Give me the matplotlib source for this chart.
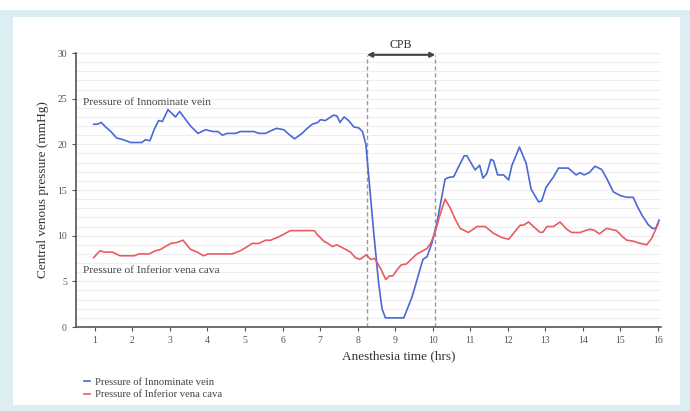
#!/usr/bin/env python3
# coding=utf-8

import matplotlib
matplotlib.use('Agg')
from matplotlib import pyplot as plt
from matplotlib.patches import Rectangle

plt.rcParams['font.family'] = ['Liberation Serif', 'DejaVu Serif']

# innominate vein pressure (hrs, mmHg)
inno_t = [0.97, 1.07, 1.17, 1.29, 1.43, 1.58, 1.72, 1.96, 2.25, 2.35, 2.47, 2.58,
          2.70, 2.80, 2.95, 3.15, 3.26, 3.55, 3.75, 3.95, 4.15, 4.28, 4.40, 4.53,
          4.75, 4.88, 5.24, 5.37, 5.55, 5.70, 5.84, 6.03, 6.17, 6.32, 6.52, 6.66,
          6.79, 6.94, 7.01, 7.14, 7.23, 7.36, 7.45, 7.53, 7.64, 7.76, 7.90, 8.03,
          8.13, 8.22, 8.43, 8.56, 8.65, 8.74, 9.23, 9.45, 9.74, 9.85, 9.98, 10.11,
          10.33, 10.45, 10.56, 10.69, 10.84, 10.91, 11.00, 11.13, 11.25, 11.34, 11.44, 11.55,
          11.62, 11.73, 11.89, 12.02, 12.11, 12.31, 12.49, 12.62, 12.82, 12.90, 13.02, 13.22,
          13.35, 13.61, 13.82, 13.93, 14.03, 14.17, 14.32, 14.50, 14.63, 14.81, 14.99, 15.17,
          15.34, 15.45, 15.58, 15.74, 15.85, 15.94, 16.03]
inno_p = [22.2, 22.2, 22.4, 21.9, 21.4, 20.7, 20.55, 20.2, 20.2, 20.5, 20.4, 21.6,
          22.6, 22.5, 23.8, 23.0, 23.6, 22.0, 21.2, 21.6, 21.4, 21.4, 21.0, 21.2,
          21.2, 21.4, 21.4, 21.2, 21.2, 21.5, 21.75, 21.6, 21.1, 20.6, 21.2, 21.75,
          22.2, 22.4, 22.7, 22.6, 22.85, 23.2, 23.1, 22.4, 23.0, 22.6, 21.9, 21.8,
          21.4, 20.0, 10.3, 4.8, 2.0, 1.0, 1.0, 3.3, 7.4, 7.7, 9.2, 11.35,
          16.2, 16.4, 16.45, 17.55, 18.75, 18.75, 18.1, 17.2, 17.7, 16.3, 16.8, 18.35,
          18.2, 16.65, 16.65, 16.1, 17.7, 19.7, 17.9, 15.1, 13.7, 13.8, 15.3, 16.45,
          17.4, 17.4, 16.65, 16.9, 16.65, 16.9, 17.6, 17.25, 16.3, 14.8, 14.4, 14.2,
          14.2, 13.2, 12.2, 11.2, 10.8, 10.8, 11.7]

# inferior vena cava pressure (hrs, mmHg)
ivc_t = [0.97, 1.14, 1.25, 1.47, 1.67, 2.05, 2.18, 2.44, 2.62, 2.76, 2.89, 3.03,
         3.18, 3.35, 3.55, 3.73, 3.89, 4.02, 4.66, 4.88, 5.06, 5.19, 5.37, 5.55,
         5.68, 5.86, 6.03, 6.21, 6.85, 6.93, 7.10, 7.23, 7.33, 7.44, 7.59, 7.81,
         7.94, 8.06, 8.23, 8.35, 8.45, 8.53, 8.63, 8.75, 8.85, 8.94, 9.05, 9.16,
         9.30, 9.45, 9.58, 9.74, 9.85, 9.95, 10.07, 10.18, 10.33, 10.47, 10.60, 10.73,
         10.95, 11.18, 11.40, 11.62, 11.84, 12.02, 12.15, 12.33, 12.42, 12.55, 12.86, 12.94,
         13.04, 13.22, 13.39, 13.57, 13.70, 13.93, 14.06, 14.19, 14.30, 14.44, 14.63, 14.90,
         15.05, 15.17, 15.34, 15.48, 15.70, 15.83, 16.01]
ivc_p = [7.6, 8.35, 8.2, 8.2, 7.8, 7.8, 8.0, 8.0, 8.35, 8.5, 8.85, 9.15,
         9.25, 9.5, 8.5, 8.2, 7.8, 8.0, 8.0, 8.35, 8.8, 9.15, 9.15, 9.5,
         9.5, 9.8, 10.15, 10.55, 10.55, 10.1, 9.4, 9.1, 8.8, 9.0, 8.7, 8.2,
         7.6, 7.4, 7.9, 7.4, 7.5, 7.0, 6.25, 5.2, 5.6, 5.6, 6.25, 6.8,
         6.9, 7.5, 8.0, 8.35, 8.6, 9.2, 10.45, 12.1, 14.0, 13.0, 11.8, 10.8,
         10.35, 11.0, 11.0, 10.25, 9.8, 9.6, 10.25, 11.15, 11.15, 11.5, 10.35, 10.4,
         11.0, 11.0, 11.5, 10.7, 10.35, 10.35, 10.55, 10.7, 10.6, 10.2, 10.8, 10.55,
         9.9, 9.5, 9.4, 9.2, 9.0, 9.7, 11.35]

cpb_start, cpb_end = 8.25, 10.07
hours = list(range(1, 17))

fig = plt.figure(figsize=(6.9, 4.11), dpi=100, facecolor='#dcedf3')
# white card behind the chart
fig.patches.append(Rectangle((13/690, 6/411), 667/690, 388/411, transform=fig.transFigure,
                             facecolor='white', edgecolor='none', zorder=-2))
fig.patches.append(Rectangle((0, 401/411), 1, 10/411, transform=fig.transFigure,
                             facecolor='white', edgecolor='none', zorder=-2))

ax = fig.add_axes([76/690, 1 - 327/411, 585/690, 274/411])
ax.set_zorder(1)
ax.set_facecolor('white')

blue = '#4a68d6'
red = '#ea5b5e'
l1, = ax.plot(inno_t, inno_p, color=blue, lw=1.2, label='Pressure of Innominate vein', zorder=3)
l2, = ax.plot(ivc_t, ivc_p, color=red, lw=1.2, label='Pressure of Inferior vena cava', zorder=3)

# CPB window
for xv in (cpb_start, cpb_end):
    ax.plot([xv, xv], [0, 29.8], color='#9a9a9a', lw=1, ls=(0, (3, 2)), zorder=2)
ax.annotate('', xy=(cpb_start, 29.8), xytext=(cpb_end, 29.8),
            arrowprops=dict(arrowstyle='<|-|>', color='#444444', lw=1.5,
                            mutation_scale=7, shrinkA=0, shrinkB=0))
ax.text((cpb_start + cpb_end) / 2, 30.25, 'CPB', ha='center', va='bottom',
        fontsize=8.5, color='#333333', clip_on=False)

ax.text(0.68, 24.6, 'Pressure of Innominate vein', fontsize=8.2, color='#444444', va='center')
ax.text(0.68, 6.2, 'Pressure of Inferior vena cava', fontsize=8.2, color='#444444', va='center')

ax.set_xlim(0.5, 16.08)
ax.set_ylim(0, 30)
ax.set_xticks(hours)
ax.set_yticks(range(0, 31, 5))
ax.set_yticks(range(0, 31), minor=True)
ax.grid(axis='y', which='both', color='#eeeeee', lw=0.8, zorder=0)
ax.tick_params(axis='y', which='minor', length=0)
ax.tick_params(axis='both', which='major', labelsize=7, colors='#555555', length=3)
for side in ('top', 'right'):
    ax.spines[side].set_visible(False)
for side in ('left', 'bottom'):
    ax.spines[side].set_color('#555555')
    ax.spines[side].set_linewidth(1.2)

ax.set_xlabel('Anesthesia time (hrs)', fontsize=9.5, color='#333333')
ax.xaxis.set_label_coords(0.552, -0.085)
ax.set_ylabel('Central venous pressure (mmHg)', fontsize=9.5, color='#333333', labelpad=6)

fig.legend(handles=[l1, l2], loc='upper left', bbox_to_anchor=(74/690, 1 - 368/411),
           frameon=False, fontsize=7.7, handlelength=0.6, handletextpad=0.5,
           labelspacing=0.25, labelcolor='#444444')

plt.savefig('out.png', dpi=100, facecolor=fig.get_facecolor())
